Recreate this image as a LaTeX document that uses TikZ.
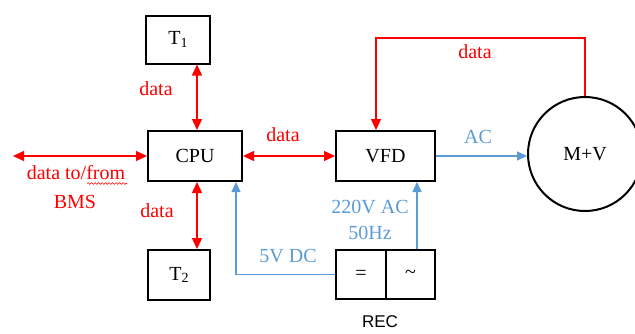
\documentclass[tikz,border=0pt]{standalone}
\usepackage{fontspec}
\setmainfont{Liberation Serif}
\newfontfamily\recfont{Liberation Sans}
\usetikzlibrary{arrows.meta,decorations.pathmorphing}
\definecolor{dred}{HTML}{FF0000}
\definecolor{dblue}{HTML}{5B9BD5}
\tikzset{
  blk/.style={draw=black,line width=2pt,rectangle,inner sep=0pt,font=\fontsize{20}{24}\selectfont},
  rline/.style={draw=dred,line width=1.4pt},
  bline/.style={draw=dblue,line width=1.4pt},
  rtip/.style={-{Triangle[length=11pt,width=10pt]}},
  rtips/.style={{Triangle[length=11pt,width=10pt]}-{Triangle[length=11pt,width=10pt]}},
  btip/.style={-{Triangle[length=10pt,width=9pt]}},
  rlab/.style={text=dred,inner sep=0pt,font=\fontsize{20}{24}\selectfont},
  blab/.style={text=dblue,inner sep=0pt,font=\fontsize{20}{24}\selectfont},
}
\newcommand{\subdig}[1]{\raisebox{-0.3ex}{\fontsize{14}{14}\selectfont #1}}
\begin{document}
\begin{tikzpicture}[x=1pt,y=-1pt]
\useasboundingbox (0,0) rectangle (635,333);
% boxes
\node[blk,minimum width=64pt,minimum height=48pt] (T1) at (178,39.5) {T\subdig{1}};
\node[blk,minimum width=94pt,minimum height=50pt] (CPU) at (195,156) {CPU};
\node[blk,minimum width=62pt,minimum height=50pt] (T2) at (179,275) {T\subdig{2}};
\node[blk,minimum width=99pt,minimum height=50pt] (VFD) at (385.5,156) {VFD};
\node[blk,minimum width=50pt,minimum height=49pt] (RECa) at (361,274.5) {=};
\node[blk,minimum width=49pt,minimum height=49pt] (RECb) at (410.5,274.5) {\textasciitilde};
\node[blk,circle,minimum size=114pt] (MV) at (585,154) {M+V};
% coordinates
\coordinate (bms) at (13,156);
\coordinate (ax) at (197,0);
\coordinate (dc) at (236,0);
\coordinate (top) at (376,38);
\coordinate (acx) at (417,0);
% red connectors
\draw[rline,rtips] (T1.south -| ax) -- (CPU.north -| ax);
\draw[rline,rtips] (CPU.south -| ax) -- (T2.north -| ax);
\draw[rline,rtips] (bms) -- (CPU.west);
\draw[rline,rtips] (CPU.east) -- (VFD.west);
\draw[rline,rtip] (MV.north) |- (top) -- (VFD.north -| top);
% blue connectors
\draw[bline,btip] (VFD.east) -- (VFD.east -| MV.west);
\draw[bline,btip] (RECb.north -| acx) -- (VFD.south -| acx);
\draw[bline,btip] (RECa.west) -| (CPU.south -| dc);
% labels
\node[rlab] (l1) at (156,89) {data};
\node[rlab] (l2) at (157,211) {data};
\node[rlab] (l3) at (283,135) {data};
\node[rlab] (l4) at (76,173) {data to/from};
\node[rlab] (l5) at (75,202) {BMS};
\node[rlab] (l6) at (475,52) {data};
\node[blab] (l7) at (478,137) {AC};
\node[blab] (l8) at (370,207) {220V AC};
\node[blab] (l9) at (370,233) {50Hz};
\node[blab] (l10) at (288,256) {5V DC};
\node[inner sep=0pt,font=\recfont\fontsize{17}{20}\selectfont] (rec) at (380,322) {REC};
\draw[dred,line width=0.6pt,decorate,decoration={snake,amplitude=0.9pt,segment length=3.5pt}] (87,183.5) -- (127,183.5);
\end{tikzpicture}
\end{document}
